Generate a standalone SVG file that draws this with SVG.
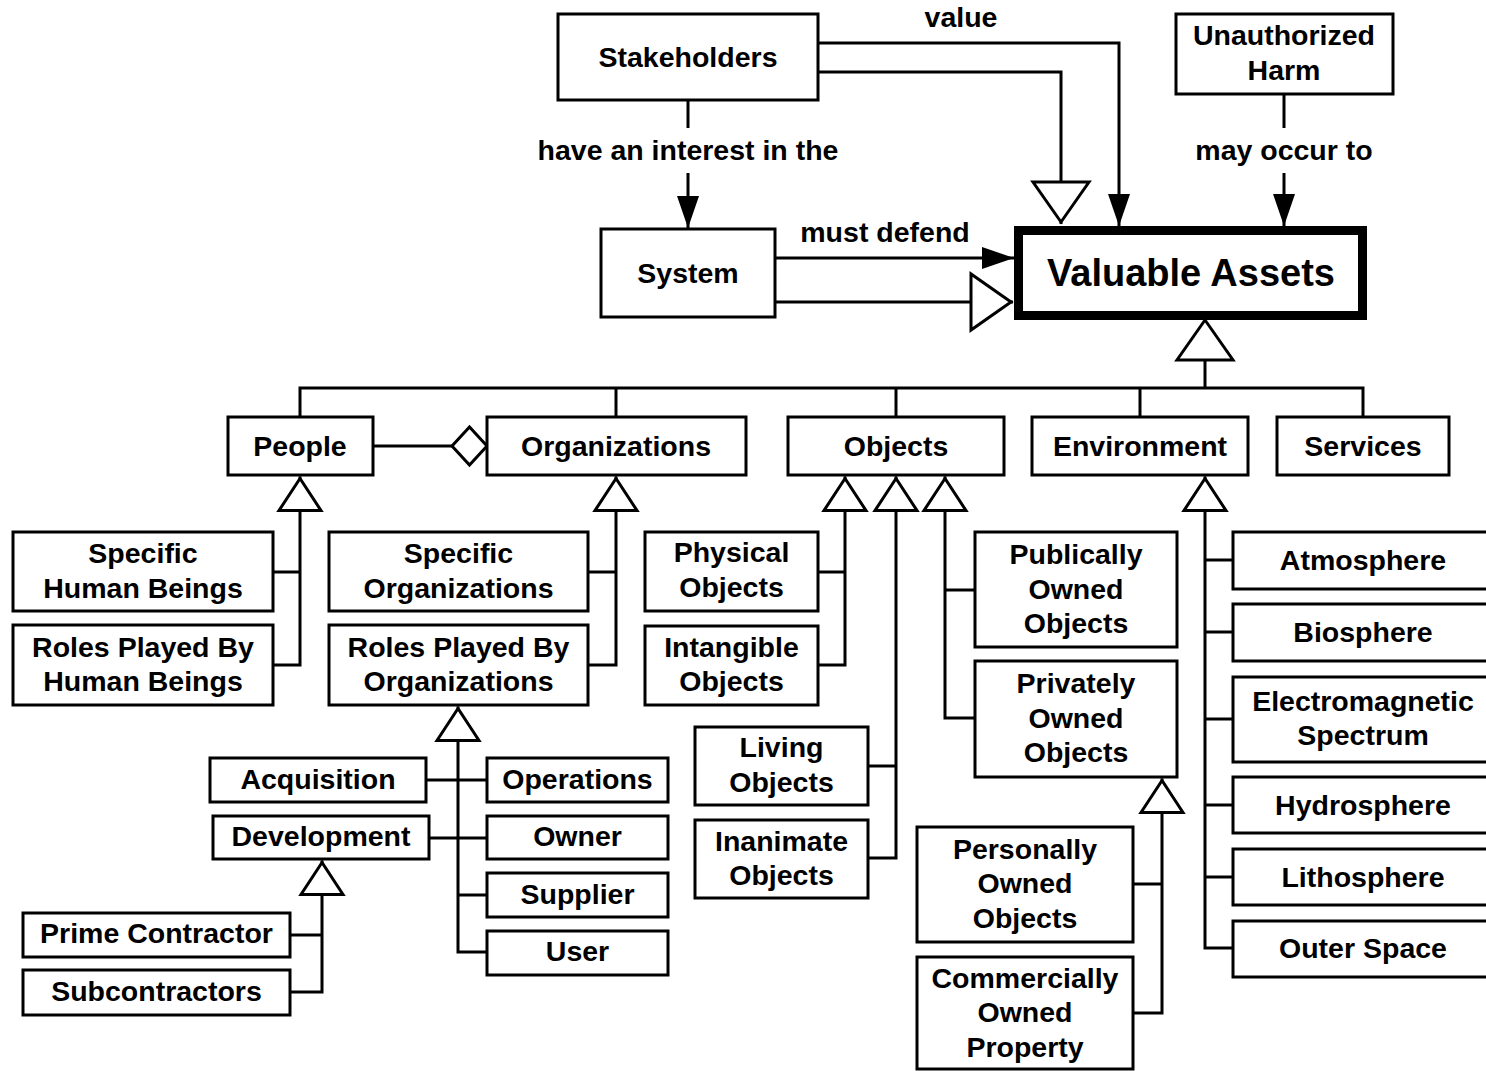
<svg xmlns="http://www.w3.org/2000/svg" width="1486" height="1071" viewBox="0 0 1486 1071">
  <style>
    .box { fill: #fff; stroke: #000; stroke-width: 3; }
    .main { fill: #fff; stroke: #000; stroke-width: 9; }
    .wire { fill: none; stroke: #000; stroke-width: 3; stroke-linejoin: miter; stroke-linecap: butt; }
    text { font-family: "Liberation Sans", Arial, Helvetica, sans-serif; font-weight: bold; font-size: 28.5px; text-anchor: middle; fill: #000; }
    .big { font-size: 38px; }
  </style>
  <defs>
    <!-- filled navigation arrow, tip at origin, pointing along +x -->
    <marker id="arrow" markerUnits="userSpaceOnUse" markerWidth="40" markerHeight="30" refX="0" refY="0" orient="auto" overflow="visible">
      <path d="M0,0 L-32,-11 L-32,11 Z" fill="#000"/>
    </marker>
    <!-- large hollow generalization triangle -->
    <marker id="genBig" markerUnits="userSpaceOnUse" markerWidth="60" markerHeight="60" refX="0" refY="0" orient="auto" overflow="visible">
      <path d="M-2,0 L-42,-28 L-42,28 Z" fill="#fff" stroke="#000" stroke-width="3" stroke-linejoin="miter"/>
    </marker>
    <!-- small hollow generalization triangle -->
    <marker id="genSmall" markerUnits="userSpaceOnUse" markerWidth="50" markerHeight="50" refX="0" refY="0" orient="auto" overflow="visible">
      <path d="M-2,0 L-34,-21 L-34,21 Z" fill="#fff" stroke="#000" stroke-width="3" stroke-linejoin="miter"/>
    </marker>
    <!-- hollow aggregation diamond -->
    <marker id="diamond" markerUnits="userSpaceOnUse" markerWidth="40" markerHeight="40" refX="0" refY="0" orient="auto" overflow="visible">
      <path d="M0,0 L-17.5,-19 L-35,0 L-17.5,19 Z" fill="#fff" stroke="#000" stroke-width="3" stroke-linejoin="miter"/>
    </marker>
  </defs>

  <rect width="1486" height="1071" fill="#fff"/>

  <!-- connectors -->
  <g id="connectors">
    <!-- Stakeholders have an interest in the System -->
    <path class="wire" d="M688,100 V128"/>
    <path class="wire" d="M688,173 V228" marker-end="url(#arrow)"/>
    <!-- Stakeholders value Valuable Assets -->
    <path class="wire" d="M818,43 H1119 V226" marker-end="url(#arrow)"/>
    <path class="wire" d="M818,72 H1061 V224" marker-end="url(#genBig)"/>
    <!-- System must defend Valuable Assets -->
    <path class="wire" d="M775,258 H1014" marker-end="url(#arrow)"/>
    <path class="wire" d="M775,302 H1013" marker-end="url(#genBig)"/>
    <!-- Unauthorized Harm may occur to Valuable Assets -->
    <path class="wire" d="M1284,94 V128"/>
    <path class="wire" d="M1284,173 V226" marker-end="url(#arrow)"/>

    <!-- Valuable Assets specialisations -->
    <path class="wire" d="M1205,388 V318" marker-end="url(#genBig)"/>
    <path class="wire" d="M300,417 V388 H1363 V417"/>
    <path class="wire" d="M616,388 V417"/>
    <path class="wire" d="M896,388 V417"/>
    <path class="wire" d="M1140,388 V417"/>

    <!-- People aggregated into Organizations -->
    <path class="wire" d="M373,446 H487" marker-end="url(#diamond)"/>

    <!-- People -->
    <path class="wire" d="M273,665 H300 V476.5" marker-end="url(#genSmall)"/>
    <path class="wire" d="M273,572 H300"/>

    <!-- Organizations -->
    <path class="wire" d="M588,665 H616 V476.5" marker-end="url(#genSmall)"/>
    <path class="wire" d="M588,572 H616"/>

    <!-- Roles Played By Organizations -->
    <path class="wire" d="M487,952 H458 V706.5" marker-end="url(#genSmall)"/>
    <path class="wire" d="M426,780 H487"/>
    <path class="wire" d="M429,838 H487"/>
    <path class="wire" d="M458,895 H487"/>

    <!-- Development -->
    <path class="wire" d="M290,992 H322 V860.5" marker-end="url(#genSmall)"/>
    <path class="wire" d="M290,935 H322"/>

    <!-- Objects -->
    <path class="wire" d="M818,665 H845 V476.5" marker-end="url(#genSmall)"/>
    <path class="wire" d="M818,572 H845"/>
    <path class="wire" d="M868,858 H896 V476.5" marker-end="url(#genSmall)"/>
    <path class="wire" d="M868,766 H896"/>
    <path class="wire" d="M975,718 H945 V476.5" marker-end="url(#genSmall)"/>
    <path class="wire" d="M975,590 H945"/>

    <!-- Privately Owned Objects -->
    <path class="wire" d="M1133,1013 H1162 V778.5" marker-end="url(#genSmall)"/>
    <path class="wire" d="M1133,884 H1162"/>

    <!-- Environment -->
    <path class="wire" d="M1233,948 H1205 V476.5" marker-end="url(#genSmall)"/>
    <path class="wire" d="M1205,560 H1233"/>
    <path class="wire" d="M1205,632 H1233"/>
    <path class="wire" d="M1205,719 H1233"/>
    <path class="wire" d="M1205,805 H1233"/>
    <path class="wire" d="M1205,877 H1233"/>
  </g>

  <!-- connector labels -->
  <g id="labels">
    <text x="961" y="27">value</text>
    <text x="688" y="160">have an interest in the</text>
    <text x="885" y="242">must defend</text>
    <text x="1284" y="160">may occur to</text>
  </g>

  <!-- top row -->
  <g id="stakeholders">
    <rect class="box" x="558" y="14" width="260" height="86"/>
    <text x="688" y="67">Stakeholders</text>
  </g>
  <g id="unauthorized-harm">
    <rect class="box" x="1176" y="14" width="217" height="80"/>
    <text x="1284" y="45">Unauthorized</text>
    <text x="1284" y="80">Harm</text>
  </g>
  <g id="system">
    <rect class="box" x="601" y="229" width="174" height="88"/>
    <text x="688" y="283">System</text>
  </g>
  <g id="valuable-assets">
    <rect class="main" x="1018.5" y="230.5" width="344" height="85"/>
    <text class="big" x="1191" y="286">Valuable Assets</text>
  </g>

  <!-- asset categories -->
  <g id="people">
    <rect class="box" x="228" y="417" width="145" height="58"/>
    <text x="300" y="456">People</text>
  </g>
  <g id="organizations">
    <rect class="box" x="487" y="417" width="259" height="58"/>
    <text x="616" y="456">Organizations</text>
  </g>
  <g id="objects">
    <rect class="box" x="788" y="417" width="216" height="58"/>
    <text x="896" y="456">Objects</text>
  </g>
  <g id="environment">
    <rect class="box" x="1032" y="417" width="216" height="58"/>
    <text x="1140" y="456">Environment</text>
  </g>
  <g id="services">
    <rect class="box" x="1277" y="417" width="172" height="58"/>
    <text x="1363" y="456">Services</text>
  </g>

  <!-- people -->
  <g id="specific-human-beings">
    <rect class="box" x="13" y="532" width="260" height="79"/>
    <text x="143" y="563">Specific</text>
    <text x="143" y="598">Human Beings</text>
  </g>
  <g id="roles-human-beings">
    <rect class="box" x="13" y="625" width="260" height="80"/>
    <text x="143" y="657">Roles Played By</text>
    <text x="143" y="691">Human Beings</text>
  </g>

  <!-- organizations -->
  <g id="specific-organizations">
    <rect class="box" x="329" y="532" width="259" height="79"/>
    <text x="458.5" y="563">Specific</text>
    <text x="458.5" y="598">Organizations</text>
  </g>
  <g id="roles-organizations">
    <rect class="box" x="329" y="625" width="259" height="80"/>
    <text x="458.5" y="657">Roles Played By</text>
    <text x="458.5" y="691">Organizations</text>
  </g>
  <g id="acquisition">
    <rect class="box" x="210" y="758" width="216" height="44"/>
    <text x="318" y="789">Acquisition</text>
  </g>
  <g id="development">
    <rect class="box" x="213" y="816" width="216" height="43"/>
    <text x="321" y="846">Development</text>
  </g>
  <g id="operations">
    <rect class="box" x="487" y="758" width="181" height="44"/>
    <text x="577.5" y="789">Operations</text>
  </g>
  <g id="owner">
    <rect class="box" x="487" y="816" width="181" height="43"/>
    <text x="577.5" y="846">Owner</text>
  </g>
  <g id="supplier">
    <rect class="box" x="487" y="873" width="181" height="44"/>
    <text x="577.5" y="904">Supplier</text>
  </g>
  <g id="user">
    <rect class="box" x="487" y="931" width="181" height="44"/>
    <text x="577.5" y="961">User</text>
  </g>
  <g id="prime-contractor">
    <rect class="box" x="23" y="913" width="267" height="44"/>
    <text x="156.5" y="943">Prime Contractor</text>
  </g>
  <g id="subcontractors">
    <rect class="box" x="23" y="970" width="267" height="45"/>
    <text x="156.5" y="1001">Subcontractors</text>
  </g>

  <!-- objects -->
  <g id="physical-objects">
    <rect class="box" x="645" y="532" width="173" height="79"/>
    <text x="731.5" y="562">Physical</text>
    <text x="731.5" y="597">Objects</text>
  </g>
  <g id="intangible-objects">
    <rect class="box" x="645" y="626" width="173" height="79"/>
    <text x="731.5" y="657">Intangible</text>
    <text x="731.5" y="691">Objects</text>
  </g>
  <g id="living-objects">
    <rect class="box" x="695" y="727" width="173" height="78"/>
    <text x="781.5" y="757">Living</text>
    <text x="781.5" y="792">Objects</text>
  </g>
  <g id="inanimate-objects">
    <rect class="box" x="695" y="820" width="173" height="78"/>
    <text x="781.5" y="851">Inanimate</text>
    <text x="781.5" y="885">Objects</text>
  </g>
  <g id="publically-owned-objects">
    <rect class="box" x="975" y="532" width="202" height="115"/>
    <text x="1076" y="564">Publically</text>
    <text x="1076" y="599">Owned</text>
    <text x="1076" y="633">Objects</text>
  </g>
  <g id="privately-owned-objects">
    <rect class="box" x="975" y="661" width="202" height="116"/>
    <text x="1076" y="693">Privately</text>
    <text x="1076" y="728">Owned</text>
    <text x="1076" y="762">Objects</text>
  </g>
  <g id="personally-owned-objects">
    <rect class="box" x="917" y="827" width="216" height="115"/>
    <text x="1025" y="859">Personally</text>
    <text x="1025" y="893">Owned</text>
    <text x="1025" y="928">Objects</text>
  </g>
  <g id="commercially-owned-property">
    <rect class="box" x="917" y="957" width="216" height="112"/>
    <text x="1025" y="988">Commercially</text>
    <text x="1025" y="1022">Owned</text>
    <text x="1025" y="1057">Property</text>
  </g>

  <!-- environment -->
  <g id="atmosphere">
    <rect class="box" x="1233" y="532" width="261" height="57"/>
    <text x="1363" y="570">Atmosphere</text>
  </g>
  <g id="biosphere">
    <rect class="box" x="1233" y="604" width="261" height="57"/>
    <text x="1363" y="642">Biosphere</text>
  </g>
  <g id="electromagnetic-spectrum">
    <rect class="box" x="1233" y="677" width="261" height="85"/>
    <text x="1363" y="711">Electromagnetic</text>
    <text x="1363" y="745">Spectrum</text>
  </g>
  <g id="hydrosphere">
    <rect class="box" x="1233" y="777" width="261" height="56"/>
    <text x="1363" y="815">Hydrosphere</text>
  </g>
  <g id="lithosphere">
    <rect class="box" x="1233" y="849" width="261" height="56"/>
    <text x="1363" y="887">Lithosphere</text>
  </g>
  <g id="outer-space">
    <rect class="box" x="1233" y="921" width="261" height="56"/>
    <text x="1363" y="958">Outer Space</text>
  </g>
</svg>
